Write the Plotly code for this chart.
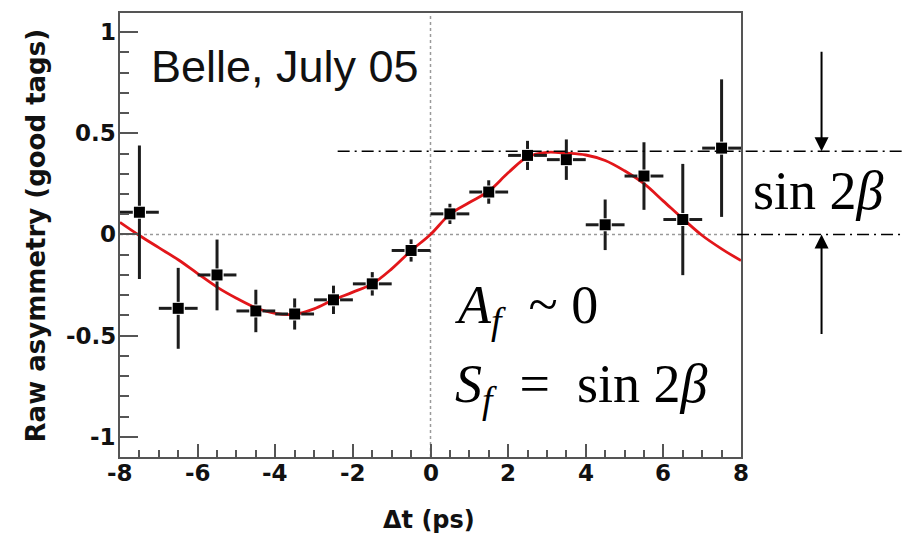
import plotly.graph_objects as go

# Binned raw asymmetry (good tags) versus proper-time difference
DT_BINS = [-7.5, -6.5, -5.5, -4.5, -3.5, -2.5, -1.5, -0.5,
           0.5, 1.5, 2.5, 3.5, 4.5, 5.5, 6.5, 7.5]
ASYM = [0.11, -0.365, -0.20, -0.378, -0.393, -0.323, -0.244, -0.079,
        0.102, 0.21, 0.391, 0.37, 0.048, 0.289, 0.074, 0.427]
ASYM_ERR = [0.33, 0.20, 0.175, 0.105, 0.077, 0.07, 0.058, 0.055,
            0.05, 0.058, 0.072, 0.10, 0.125, 0.167, 0.275, 0.34]
BIN_HALF = [0.5, 0.5, 0.5, 0.5, 0.5, 0.5, 0.5, 0.5,
            0.5, 0.5, 0.5, 0.5, 0.5, 0.5, 0.5, 0.5]

# Fit curve sampled along Δt
FIT_T = [-8.0, -7.5, -7.0, -6.5, -6.0, -5.5, -5.0, -4.5, -4.0, -3.5, -3.0,
         -2.5, -2.0, -1.5, -1.0, -0.5, 0.0, 0.5, 1.0, 1.5, 2.0, 2.5, 3.0,
         3.5, 4.0, 4.5, 5.0, 5.5, 6.0, 6.5, 7.0, 7.5, 8.0]
FIT_A = [0.06, -0.005, -0.065, -0.125, -0.193, -0.26, -0.315, -0.362, -0.39,
         -0.395, -0.368, -0.323, -0.285, -0.244, -0.17, -0.08, 0.0, 0.10,
         0.158, 0.214, 0.305, 0.383, 0.406, 0.402, 0.393, 0.366, 0.315,
         0.251, 0.165, 0.078, -0.005, -0.071, -0.129]

# Amplitude of the oscillation (sin 2β level)
SIN2B = 0.412

X_TICKS = [-8, -6, -4, -2, 0, 2, 4, 6, 8]
X_TICK_TEXT = ["-8", "-6", "-4", "-2", "0", "2", "4", "6", "8"]
Y_TICKS = [-1, -0.5, 0, 0.5, 1]
Y_TICK_TEXT = ["-1", "-0.5", "0", "0.5", "1"]

X_RANGE = [-8, 8]
Y_RANGE = [-1.1, 1.095]

# error bars are drawn as split segments leaving room around the marker
GAP_X = 0.17
GAP_Y = 0.032
ex, ey = [], []
for t, a, e, h in zip(DT_BINS, ASYM, ASYM_ERR, BIN_HALF):
    ex += [t - h, t - GAP_X, None, t + GAP_X, t + h, None]
    ey += [a, a, None, a, a, None]
    if e > GAP_Y:
        ex += [t, t, None, t, t, None]
        ey += [a + GAP_Y, a + e, None, a - GAP_Y, a - e, None]

fig = go.Figure()

fig.add_trace(go.Scatter(
    x=FIT_T, y=FIT_A, mode="lines",
    line=dict(color="rgb(226,22,26)", width=2.8, shape="spline", smoothing=1.0),
    hoverinfo="skip", showlegend=False))

fig.add_trace(go.Scatter(
    x=ex, y=ey, mode="lines",
    line=dict(color="#1c1c1c", width=3),
    hoverinfo="skip", showlegend=False))

fig.add_trace(go.Scatter(
    x=DT_BINS, y=ASYM, mode="markers",
    marker=dict(symbol="square", size=11, color="#000000", line=dict(width=0)),
    showlegend=False))

# dotted zero lines
fig.add_shape(type="line", xref="x", yref="y", x0=X_RANGE[0], x1=X_RANGE[1], y0=0, y1=0,
              line=dict(color="#9a9a9a", width=1.5, dash="dot"), layer="below")
fig.add_shape(type="line", xref="x", yref="y", x0=0, x1=0, y0=Y_RANGE[0], y1=Y_RANGE[1],
              line=dict(color="#9a9a9a", width=1.5, dash="dot"), layer="below")

# dash-dot guides marking the amplitude
dashdot = dict(color="#000000", width=1.5, dash="12px,5px,2px,5px")
fig.add_shape(type="line", xref="paper", yref="y", x0=0.3505, x1=1.264,
              y0=SIN2B, y1=SIN2B, line=dashdot)
fig.add_shape(type="line", xref="paper", yref="y", x0=0.9936, x1=1.264,
              y0=0, y1=0, line=dashdot)

# arrows pointing at the two guide lines
for yv, ay in [(SIN2B, -101), (0, 101)]:
    fig.add_annotation(x=1.1297, xref="paper", y=yv, yref="y", text="",
                       showarrow=True, ax=0, ay=ay, arrowhead=2, arrowsize=1.4,
                       arrowwidth=2, arrowcolor="#000000", standoff=0)

serif = dict(family="Liberation Serif", size=54, color="#000000")

fig.add_annotation(x=1.1250, xref="paper", y=0.6, yref="paper",
                   text="sin\u00a02<i>β</i>", showarrow=False,
                   xanchor="center", yanchor="middle", font=serif)

fig.add_annotation(x=0.537, xref="paper", y=0.335, yref="paper",
                   text="<i>A</i><sub><i>f</i></sub>\u00a0\u00a0~\u00a00",
                   showarrow=False, xanchor="left", yanchor="middle", font=serif)
fig.add_annotation(x=0.537, xref="paper", y=0.156, yref="paper",
                   text="<i>S</i><sub><i>f</i></sub>\u00a0\u00a0=\u00a0\u00a0sin\u00a02<i>β</i>",
                   showarrow=False, xanchor="left", yanchor="middle", font=serif)

fig.add_annotation(x=0.0475, xref="paper", y=0.8806, yref="paper",
                   text="Belle, July 05", showarrow=False,
                   xanchor="left", yanchor="middle",
                   font=dict(family="Liberation Sans", size=45, color="#111111"))

# axis titles
fig.add_annotation(x=-0.1346, xref="paper", y=0.5, yref="paper",
                   text="Raw asymmetry (good tags)", textangle=-90, showarrow=False,
                   xanchor="center", yanchor="middle",
                   font=dict(family="DejaVu Sans", size=26, color="#111111", weight="bold"))
fig.add_annotation(x=0.497, xref="paper", y=-0.142, yref="paper",
                   text="Δt (ps)", showarrow=False,
                   xanchor="center", yanchor="middle",
                   font=dict(family="DejaVu Sans", size=24, color="#111111", weight="bold"))

# tick labels set close to the frame, at the tick values
tickfont = dict(family="DejaVu Sans", size=23, color="#111111", weight="bold")
for v, s in zip(X_TICKS, X_TICK_TEXT):
    fig.add_annotation(x=v, xref="x", y=-0.037, yref="paper", text=s, showarrow=False,
                       xanchor="center", yanchor="middle", font=tickfont)
for v, s in zip(Y_TICKS, Y_TICK_TEXT):
    fig.add_annotation(x=-0.003, xref="paper", y=v, yref="y", text=s, showarrow=False,
                       xanchor="right", yanchor="middle", font=tickfont)

fig.update_xaxes(range=X_RANGE, tickmode="array", tickvals=X_TICKS, showticklabels=False,
                 ticks="inside", ticklen=13, tickwidth=2, tickcolor="#555555",
                 minor=dict(dtick=0.5, tick0=0, ticks="inside", ticklen=7,
                            tickwidth=1.5, tickcolor="#555555"),
                 showgrid=False, zeroline=False, showline=True, linecolor="#555555",
                 linewidth=2, mirror=True)
fig.update_yaxes(range=Y_RANGE, tickmode="array", tickvals=Y_TICKS, showticklabels=False,
                 ticks="inside", ticklen=18, tickwidth=2, tickcolor="#555555",
                 minor=dict(dtick=0.1, tick0=0, ticks="inside", ticklen=9,
                            tickwidth=1.5, tickcolor="#555555"),
                 showgrid=False, zeroline=False, showline=True, linecolor="#555555",
                 linewidth=2, mirror=True)

fig.update_layout(width=919, height=537, margin=dict(l=120, r=178, t=13, b=80),
                  paper_bgcolor="white", plot_bgcolor="white", showlegend=False)

fig.write_html("out.html")
